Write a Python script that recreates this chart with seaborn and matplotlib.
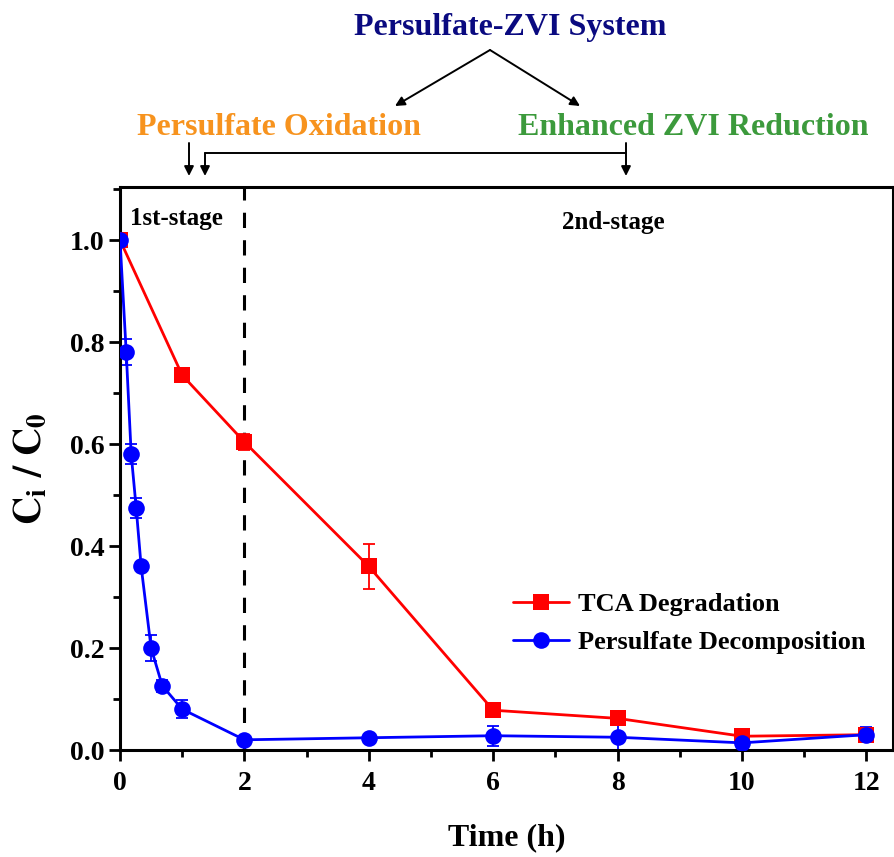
import numpy as np
import pandas as pd
import matplotlib
matplotlib.use("Agg")
import matplotlib.pyplot as plt
import seaborn as sns
from matplotlib.ticker import MultipleLocator

# ---- data ----
tca_time = [0, 1, 2, 4, 6, 8, 10, 12]
tca_vals = [1.0, 0.735, 0.604, 0.360, 0.078, 0.062, 0.027, 0.030]
tca_err = [0.0, 0.008, 0.015, 0.044, 0.008, 0.006, 0.004, 0.012]

ps_time = [0, 0.1, 0.18, 0.26, 0.34, 0.5, 0.68, 1.0, 2, 4, 6, 8, 10, 12]
ps_vals = [1.0, 0.780, 0.580, 0.475, 0.360, 0.200, 0.126, 0.080, 0.020, 0.024, 0.028, 0.025, 0.014, 0.030]
ps_err = [0.0, 0.026, 0.020, 0.020, 0.008, 0.025, 0.012, 0.018, 0.004, 0.004, 0.020, 0.025, 0.006, 0.015]

series_names = ["TCA Degradation", "Persulfate Decomposition"]
colors = {"TCA Degradation": "#FF0000", "Persulfate Decomposition": "#0000FF"}
markers = {"TCA Degradation": "s", "Persulfate Decomposition": "o"}

x_ticks = [0, 2, 4, 6, 8, 10, 12]
y_ticks = [0.0, 0.2, 0.4, 0.6, 0.8, 1.0]

df = pd.concat([
    pd.DataFrame({"t": tca_time, "c": tca_vals, "series": series_names[0]}),
    pd.DataFrame({"t": ps_time, "c": ps_vals, "series": series_names[1]}),
], ignore_index=True)

sns.set_style("ticks")
plt.rcParams["font.family"] = ["Liberation Serif", "DejaVu Serif"]
plt.rcParams["font.weight"] = "bold"
plt.rcParams["mathtext.fontset"] = "stix"
for k in ["text.color", "axes.labelcolor", "xtick.color", "ytick.color", "axes.edgecolor"]:
    plt.rcParams[k] = "black"

W, H = 894, 857
fig = plt.figure(figsize=(W / 100, H / 100), dpi=100)
ax = fig.add_axes([120 / W, (H - 750) / H, (893 - 120) / W, (750 - 187) / H])

# error bars
ax.errorbar(tca_time, tca_vals, yerr=tca_err, fmt="none", ecolor=colors[series_names[0]],
            elinewidth=1.3, capsize=4, capthick=1.3, zorder=2)
ax.errorbar(ps_time, ps_vals, yerr=ps_err, fmt="none", ecolor=colors[series_names[1]],
            elinewidth=1.3, capsize=4, capthick=1.3, zorder=2)

sns.lineplot(data=df, x="t", y="c", hue="series", style="series", hue_order=series_names,
             style_order=series_names, palette=colors, markers=markers, dashes=False,
             markersize=12, markeredgewidth=0, linewidth=2, sort=False, ax=ax, zorder=3)

ax.axvline(2, color="black", linestyle=(0, (5, 4)), linewidth=2.2, zorder=1)

ax.set_xlim(0, 773 / 62.2)
ax.set_ylim(0, 1.104)
ax.set_xticks(x_ticks)
ax.set_yticks(y_ticks)
ax.set_yticklabels([f"{v:.1f}" for v in y_ticks])
ax.xaxis.set_minor_locator(MultipleLocator(1))
ax.yaxis.set_minor_locator(MultipleLocator(0.1))
ax.tick_params(which="major", direction="out", length=8, width=2, labelsize=20, pad=3)
ax.tick_params(axis="x", which="major", pad=7)
ax.tick_params(which="minor", direction="out", length=5, width=2)
for lab in ax.get_xticklabels() + ax.get_yticklabels():
    lab.set_fontweight("bold")
for s in ax.spines.values():
    s.set_linewidth(2.2)
    s.set_visible(True)

ax.set_xlabel("Time (h)", fontsize=23, fontweight="bold", labelpad=20)
ax.set_ylabel(r"$\mathbf{C_i\ /\ C_0}$", fontsize=28, labelpad=14)

leg = ax.legend(loc="upper left", bbox_to_anchor=(0.495, 0.298), frameon=False,
                prop={"size": 19, "weight": "bold"}, handlelength=2.1, handletextpad=0.35,
                labelspacing=0.55, borderaxespad=0)

ax.text(0.16, 1.043, "1st-stage", fontsize=18, fontweight="bold", ha="left", va="center")
ax.text(7.93, 1.035, "2nd-stage", fontsize=18, fontweight="bold", ha="center", va="center")

def fx(px):
    return px / W

def fy(py):
    return 1 - py / H

fig.text(fx(510), fy(28), "Persulfate-ZVI System", color="#0A0A80", fontsize=23,
         fontweight="bold", ha="center", va="center")
fig.text(fx(279), fy(128), "Persulfate Oxidation", color="#F7931E", fontsize=23,
         fontweight="bold", ha="center", va="center")
fig.text(fx(693), fy(128), "Enhanced ZVI Reduction", color="#3C9A3C", fontsize=23,
         fontweight="bold", ha="center", va="center")

arrow = dict(arrowstyle="-|>", color="black", lw=1.4, mutation_scale=14, shrinkA=0, shrinkB=0)
fig.add_artist(matplotlib.patches.FancyArrowPatch((fx(490), fy(50)), (fx(395), fy(106)),
                                                   transform=fig.transFigure, **arrow))
fig.add_artist(matplotlib.patches.FancyArrowPatch((fx(490), fy(50)), (fx(580), fy(106)),
                                                   transform=fig.transFigure, **arrow))
fig.add_artist(matplotlib.patches.FancyArrowPatch((fx(189), fy(143)), (fx(189), fy(176)),
                                                   transform=fig.transFigure, **arrow))
fig.add_artist(matplotlib.patches.FancyArrowPatch((fx(205), fy(153)), (fx(205), fy(176)),
                                                   transform=fig.transFigure, **arrow))
fig.add_artist(matplotlib.patches.FancyArrowPatch((fx(626), fy(143)), (fx(626), fy(176)),
                                                   transform=fig.transFigure, **arrow))
fig.add_artist(matplotlib.lines.Line2D([fx(205), fx(626)], [fy(153), fy(153)],
                                       transform=fig.transFigure, color="black", lw=1.4))

fig.savefig("out.png", dpi=100)
